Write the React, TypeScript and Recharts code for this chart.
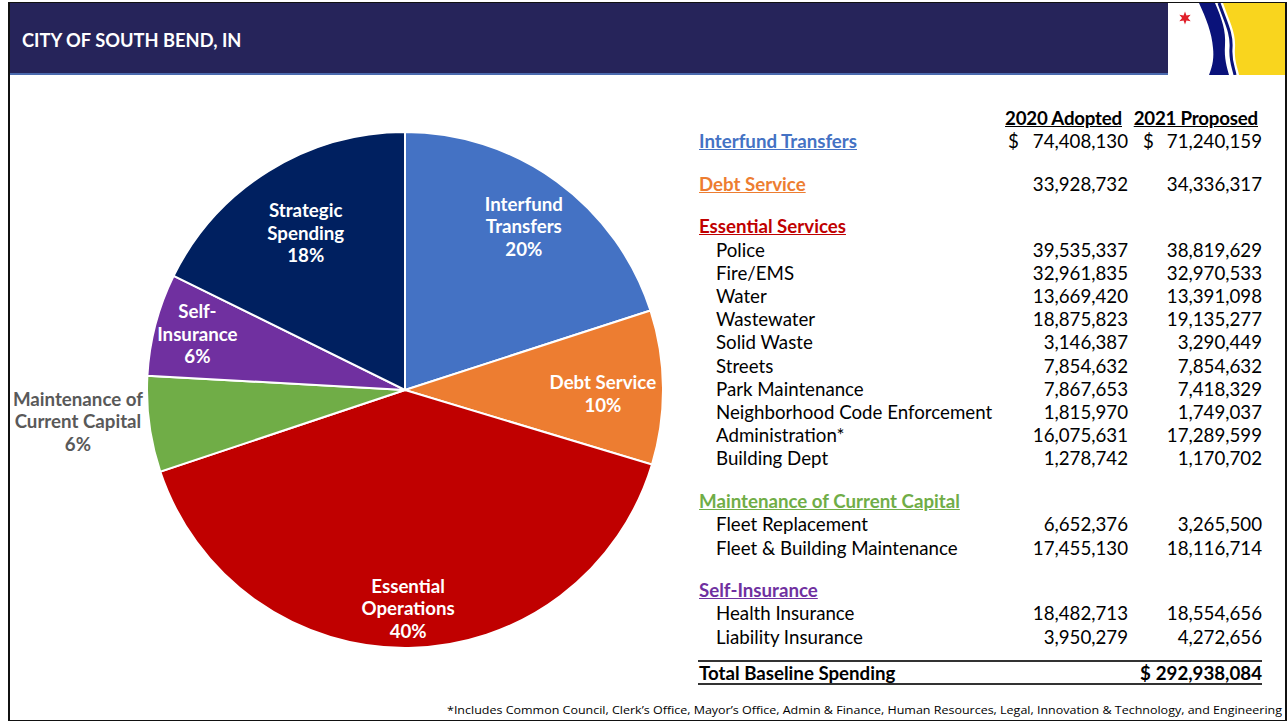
import { PieChart, Pie, Cell } from "recharts";

// pie slices (share of total spending incl. strategic)
const sliceNames = [
  "Interfund Transfers",
  "Debt Service",
  "Essential Operations",
  "Maintenance of Current Capital",
  "Self-Insurance",
  "Strategic Spending",
];
const sliceLines = [
  ["Interfund", "Transfers"],
  ["Debt Service"],
  ["Essential", "Operations"],
  ["Maintenance of", "Current Capital"],
  ["Self-", "Insurance"],
  ["Strategic", "Spending"],
];
const sliceColors = ["#4472C4", "#ED7D31", "#C00000", "#70AD47", "#7030A0", "#002060"];

// budget table
const groupNames = [
  "Interfund Transfers",
  "Debt Service",
  "Essential Services",
  "Maintenance of Current Capital",
  "Self-Insurance",
];
const groupAdopted = [74408130, 33928732, null, null, null];
const groupProposed = [71240159, 34336317, null, null, null];

const essentialItems = [
  "Police",
  "Fire/EMS",
  "Water",
  "Wastewater",
  "Solid Waste",
  "Streets",
  "Park Maintenance",
  "Neighborhood Code Enforcement",
  "Administration*",
  "Building Dept",
];
const essentialAdopted = [39535337, 32961835, 13669420, 18875823, 3146387, 7854632, 7867653, 1815970, 16075631, 1278742];
const essentialProposed = [38819629, 32970533, 13391098, 19135277, 3290449, 7854632, 7418329, 1749037, 17289599, 1170702];

const capitalItems = ["Fleet Replacement", "Fleet & Building Maintenance"];
const capitalAdopted = [6652376, 17455130];
const capitalProposed = [3265500, 18116714];

const insuranceItems = ["Health Insurance", "Liability Insurance"];
const insuranceAdopted = [18482713, 3950279];
const insuranceProposed = [18554656, 4272656];

const totalBaseline = 292938084;
const strategicSpending = 63000000;

const footnote =
  "*Includes Common Council, Clerk\u2019s Office, Mayor\u2019s Office, Admin & Finance, Human Resources, Legal, Innovation & Technology, and Engineering";

const sum = (a: number[]) => a.reduce((s, v) => s + v, 0);
const sliceValues = [
  groupProposed[0] as number,
  groupProposed[1] as number,
  sum(essentialProposed),
  sum(capitalProposed),
  sum(insuranceProposed),
  strategicSpending,
];
const pieData = sliceNames.map((name, i) => ({ name, value: sliceValues[i] }));

const FONT = "Lato, 'Open Sans', sans-serif";
const FS = 18.7;
const labelRadius = [0.783, 0.767, 0.845, 1.279, 0.832, 0.729];
const labelNudge = [0, 6, 1, -12, -1, 3];

const renderLabel = (p: any) => {
  const { cx, cy, midAngle, outerRadius, index, percent } = p;
  const rad = Math.PI / 180;
  const r = outerRadius * labelRadius[index];
  const x = cx + r * Math.cos(-midAngle * rad);
  const y = cy + r * Math.sin(-midAngle * rad) + labelNudge[index];
  const lines = [...sliceLines[index], `${Math.round(percent * 100)}%`];
  const lh = 22.5;
  const y0 = y - ((lines.length - 1) * lh) / 2 + 6.5;
  const outside = labelRadius[index] > 1;
  return (
    <text
      x={x}
      y={y0}
      textAnchor="middle"
      fill={outside ? "#595959" : "#ffffff"}
      fontFamily={FONT}
      fontWeight={700}
      fontSize={FS}
    >
      {lines.map((l, i) => (
        <tspan key={i} x={x} y={y0 + i * lh}>
          {l}
        </tspan>
      ))}
    </text>
  );
};

const fmt = (v: number) => v.toLocaleString("en-US");

type Row = {
  label: string;
  heading: boolean;
  color?: string;
  adopted: number | null;
  proposed: number | null;
  dollar: boolean;
  y: number;
};

const buildRows = (): Row[] => {
  const rows: Row[] = [];
  const step = 23.2;
  const gap = 19.5;
  let y = 141;
  const items = [[], [], essentialItems, capitalItems, insuranceItems] as string[][];
  const ad = [[], [], essentialAdopted, capitalAdopted, insuranceAdopted] as number[][];
  const pr = [[], [], essentialProposed, capitalProposed, insuranceProposed] as number[][];
  groupNames.forEach((g, gi) => {
    if (gi > 0) y += gap;
    rows.push({
      label: g,
      heading: true,
      color: sliceColors[gi],
      adopted: groupAdopted[gi],
      proposed: groupProposed[gi],
      dollar: gi === 0,
      y,
    });
    y += step;
    items[gi].forEach((it, ii) => {
      rows.push({ label: it, heading: false, adopted: ad[gi][ii], proposed: pr[gi][ii], dollar: false, y });
      y += step;
    });
  });
  return rows;
};

const Star = ({ cx, cy, r }: { cx: number; cy: number; r: number }) => {
  const pts: string[] = [];
  for (let i = 0; i < 12; i++) {
    const a = (Math.PI / 6) * i - Math.PI / 2;
    const rr = i % 2 === 0 ? r : r * 0.45;
    pts.push(`${cx + rr * Math.cos(a)},${cy + rr * Math.sin(a)}`);
  }
  return <polygon points={pts.join(" ")} fill="#E0202A" />;
};

export default function App() {
  const rows = buildRows();
  const abs = (s: React.CSSProperties): React.CSSProperties => ({ position: "absolute", whiteSpace: "nowrap", ...s });
  const lineH = 22;
  const cell = (y: number): React.CSSProperties => ({ top: y - lineH / 2, lineHeight: `${lineH}px`, fontSize: FS, color: "#000" });
  return (
    <div
      style={{
        position: "absolute",
        left: 0,
        top: 0,
        width: 1288,
        height: 721,
        background: "#ffffff",
        fontFamily: FONT,
        overflow: "hidden",
      }}
    >
      {/* frame */}
      <div style={abs({ left: 8, top: 2, width: 1275, height: 716, border: "2px solid #111" })} />
      {/* header */}
      <div style={abs({ left: 10, top: 3, width: 1158, height: 70, background: "#26245A" })} />
      <div style={abs({ left: 10, top: 73, width: 1158, height: 2, background: "#4A6AAE" })} />
      <div
        style={abs({
          left: 22,
          top: 29,
          height: lineH,
          lineHeight: `${lineH}px`,
          color: "#ffffff",
          fontWeight: 700,
          fontSize: 18.3,
        })}
      >
        CITY OF SOUTH BEND, IN
      </div>
      {/* logo */}
      <svg style={abs({ left: 1168, top: 3 })} width={117} height={72}>
        <rect x={0} y={0} width={117} height={72} fill="#ffffff" />
        <path d="M55,0 C62,20 68,30 67,45 C66,58 70,66 71,72 L117,72 L117,0 Z" fill="#F9D51E" />
        <path d="M51,0 C58,20 64,30 63,45 C62,58 66,66 67,72" stroke="#0A127A" strokeWidth={3} fill="none" />
        <path
          d="M31,0 L47,0 C54,16 58,28 57,42 C56,56 59,64 61,72 L41,72 C45,62 46,54 45,45 C44,30 38,15 31,0 Z"
          fill="#0A127A"
        />
        <Star cx={17} cy={15} r={6.5} />
      </svg>

      {/* pie */}
      <div style={abs({ left: 0, top: 80 })}>
        <PieChart width={690} height={620}>
          <Pie
            data={pieData}
            dataKey="value"
            nameKey="name"
            cx={400}
            cy={305}
            outerRadius={258}
            startAngle={90}
            endAngle={-270}
            stroke="#ffffff"
            strokeWidth={2}
            label={renderLabel}
            labelLine={false}
            isAnimationActive={false}
          >
            {pieData.map((d, i) => (
              <Cell key={d.name} fill={sliceColors[i]} />
            ))}
          </Pie>
        </PieChart>
      </div>

      {/* table header */}
      {[
        { t: "2020 Adopted", r: 1122 },
        { t: "2021 Proposed", r: 1258 },
      ].map((h) => (
        <div
          key={h.t}
          style={abs({
            right: 1288 - h.r,
            ...cell(118),
            fontWeight: 700,
            textDecoration: "underline",
            letterSpacing: -0.2,
          })}
        >
          {h.t}
        </div>
      ))}

      {rows.map((r, i) => (
        <div key={i}>
          <div
            style={abs({
              left: r.heading ? 699 : 716,
              ...cell(r.y),
              fontWeight: r.heading ? 700 : 400,
              color: r.heading ? r.color : "#000",
              textDecoration: r.heading ? "underline" : "none",
            })}
          >
            {r.label}
          </div>
          {r.dollar && (
            <>
              <div style={abs({ left: 1008, ...cell(r.y) })}>$</div>
              <div style={abs({ left: 1143, ...cell(r.y) })}>$</div>
            </>
          )}
          {r.adopted !== null && <div style={abs({ right: 1288 - 1128, ...cell(r.y) })}>{fmt(r.adopted)}</div>}
          {r.proposed !== null && <div style={abs({ right: 1288 - 1262, ...cell(r.y) })}>{fmt(r.proposed)}</div>}
        </div>
      ))}

      {/* total */}
      <div style={abs({ left: 698, top: 660, width: 564, height: 2, background: "#333" })} />
      <div style={abs({ left: 698, top: 683, width: 564, height: 2, background: "#333" })} />
      <div style={abs({ left: 699, ...cell(673), fontWeight: 700 })}>Total Baseline Spending</div>
      <div style={abs({ left: 1140, ...cell(673), fontWeight: 700 })}>$</div>
      <div style={abs({ right: 1288 - 1262, ...cell(673), fontWeight: 700 })}>{fmt(totalBaseline)}</div>

      {/* footnote */}
      <svg style={abs({ left: 0, top: 700 })} width={1288} height={20}>
        <text
          x={447}
          y={14}
          textLength={835}
          lengthAdjust="spacingAndGlyphs"
          fontSize={11.5}
          fontFamily="'Open Sans', sans-serif"
          fill="#000"
        >
          {footnote}
        </text>
      </svg>
    </div>
  );
}
